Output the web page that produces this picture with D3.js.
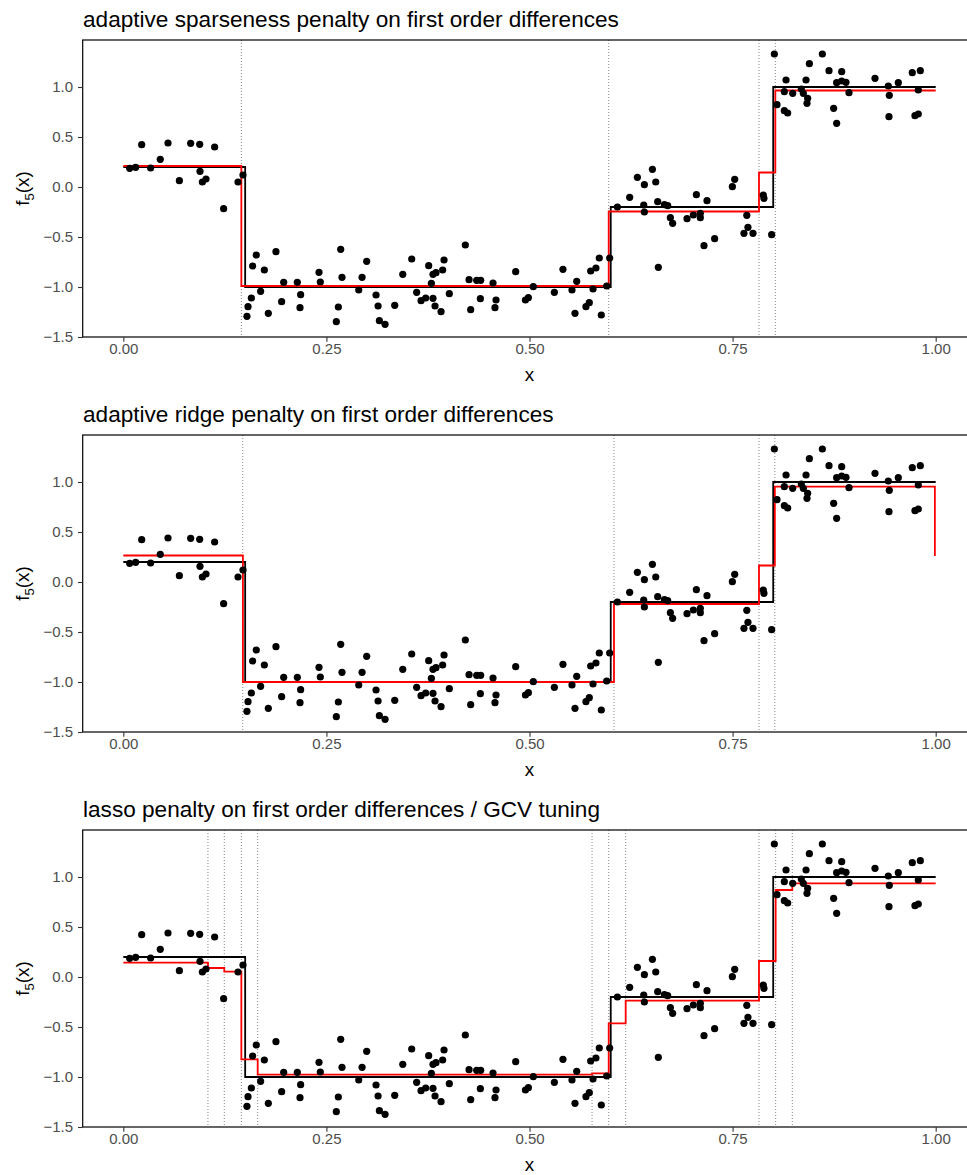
<!DOCTYPE html>
<html>
<head>
<meta charset="utf-8">
<script src="https://cdn.jsdelivr.net/npm/d3@7/dist/d3.min.js"></script>
<style>
    body{ margin:0; background:#fff; }
    svg{ display:block; font-family:"Liberation Sans", Arial, sans-serif; }
    .tick text{ fill:#4d4d4d; }
</style>
</head>
<body>
<script>
// observed data (same in all three panels)
var obsX = [0.0078, 0.0152, 0.0226, 0.0336, 0.0455, 0.055, 0.069, 0.0829, 0.094, 0.0944,
        0.0973, 0.1018, 0.1124, 0.1235, 0.1412, 0.1473, 0.1522, 0.1535, 0.1576, 0.1592,
        0.1637, 0.169, 0.1736, 0.1785, 0.1879, 0.1949, 0.1974, 0.2142, 0.2175, 0.2183,
        0.2409, 0.2425, 0.2622, 0.2647, 0.2676, 0.2692, 0.2898, 0.2939, 0.2996, 0.3111,
        0.3136, 0.3152, 0.3222, 0.3341, 0.344, 0.355, 0.3611, 0.3665, 0.3722, 0.3759,
        0.3792, 0.3812, 0.3812, 0.3837, 0.3849, 0.3911, 0.3931, 0.3948, 0.4013, 0.421,
        0.4256, 0.4276, 0.435, 0.4395, 0.4399, 0.4551, 0.4575, 0.4588, 0.483, 0.495,
        0.4986, 0.5047, 0.5306, 0.5412, 0.5523, 0.556, 0.5581, 0.5695, 0.5736, 0.5753,
        0.5782, 0.5818, 0.5859, 0.5884, 0.595, 0.5987, 0.6082, 0.6233, 0.6328, 0.6406,
        0.6414, 0.6414, 0.6513, 0.6554, 0.6578, 0.6586, 0.6661, 0.6701, 0.6734, 0.6762,
        0.6939, 0.7017, 0.7054, 0.7103, 0.7103, 0.7148, 0.7185, 0.7279, 0.7497, 0.7526,
        0.764, 0.7675, 0.7689, 0.7751, 0.7878, 0.7886, 0.7981, 0.8014, 0.8047, 0.8137,
        0.8137, 0.8158, 0.8178, 0.824, 0.8346, 0.8371, 0.8404, 0.8416, 0.8424, 0.8445,
        0.8605, 0.8687, 0.8744, 0.8781, 0.8781, 0.8843, 0.8843, 0.8896, 0.8933, 0.9253,
        0.9417, 0.9425, 0.9429, 0.954, 0.9712, 0.9745, 0.9786, 0.9786, 0.9811];
var obsY = [0.187, 0.197, 0.423, 0.19, 0.277, 0.44, 0.063, 0.437, 0.427, 0.157,
        0.05, 0.08, 0.40, -0.217, 0.05, 0.12, -1.293, -1.197, -1.11, -0.79,
        -0.68, -1.043, -0.83, -1.263, -0.647, -1.147, -0.953, -0.953, -1.207, -1.077,
        -0.853, -0.95, -1.347, -1.2, -0.623, -0.903, -1.03, -0.903, -0.743, -1.08,
        -1.19, -1.337, -1.373, -1.183, -0.873, -0.72, -1.053, -1.137, -1.11, -0.787,
        -0.963, -0.873, -1.113, -1.19, -0.857, -1.247, -0.83, -0.73, -1.067, -0.58,
        -0.927, -1.227, -0.933, -1.117, -0.933, -0.96, -1.207, -1.13, -0.847, -1.13,
        -1.107, -0.997, -1.053, -0.823, -1.03, -1.263, -0.943, -1.197, -1.157, -0.84,
        -1.02, -0.81, -0.71, -1.28, -0.99, -0.71, -0.2, -0.103, 0.097, -0.18,
        0.023, -0.25, 0.177, 0.05, -0.147, -0.803, -0.177, -0.187, -0.307, -0.363,
        -0.317, -0.28, -0.077, -0.263, -0.307, -0.587, -0.137, -0.517, 0.003, 0.077,
        -0.463, -0.283, -0.403, -0.463, -0.08, -0.113, -0.477, 1.33, 0.823, 0.953,
        0.763, 1.07, 0.74, 0.937, 0.98, 0.937, 1.07, 0.837, 0.887, 1.233,
        1.33, 1.163, 0.787, 0.637, 1.043, 1.153, 1.06, 1.047, 0.943, 1.087,
        1.01, 0.703, 0.917, 1.043, 1.143, 0.713, 0.97, 0.73, 1.163];

// true step function f5
var trueBreaks = [0.15, 0.6, 0.8];
var trueLevels = [0.2, -1.0, -0.2, 1.0];

// fits
var sparseBreaks = [0.1453, 0.5975, 0.7825, 0.8026];
var sparseLevels = [0.21, -0.99, -0.245, 0.145, 0.965];
var sparseKnots = [0.1453, 0.5975, 0.7825, 0.8026];

var ridgeBreaks = [0.1472, 0.604, 0.7825, 0.802, 0.999];
var ridgeLevels = [0.265, -1.0, -0.22, 0.165, 0.953, 0.27];
var ridgeKnots = [0.147, 0.604, 0.7825, 0.802];

var lassoBreaks = [0.1042, 0.1243, 0.1453, 0.1654, 0.577, 0.5975, 0.6184, 0.7825, 0.803, 0.8235];
var lassoLevels = [0.143, 0.09, 0.053, -0.823, -0.977, -0.963, -0.463, -0.237, 0.16, 0.87, 0.937];
var lassoKnots = [0.1042, 0.1243, 0.1453, 0.1654, 0.577, 0.5975, 0.6184, 0.7825, 0.803, 0.8235];

var titles = [
    'adaptive sparseness penalty on first order differences',
    'adaptive ridge penalty on first order differences',
    'lasso penalty on first order differences / GCV tuning'
];
var xTicks = [0, 0.25, 0.5, 0.75, 1];
var yTicks = [-1.5, -1, -0.5, 0, 0.5, 1];

var W = 967, H = 1175,
    left = 82.7, right = 976.3,
    panelH = 297,
    tops = [40, 435, 830];

var svg = d3.select( 'body' ).append( 'svg' )
    .attr( 'width', W )
    .attr( 'height', H );

var points = obsX.map( function( v, i ){ return [v, obsY[i]]; } );

function stepPoints( breaks, levels ){
    var pts = [[0, levels[0]]];
    breaks.forEach( function( b, i ){
        pts.push( [b, levels[i+1]] );
    });
    pts.push( [1, levels[levels.length-1]] );
    return pts;
}

function drawPanel( top, title, breaks, levels, knots ){
    var x = d3.scaleLinear().domain( [-0.05, 1.05] ).range( [left, right] ),
        y = d3.scaleLinear().domain( [-1.5, 1.47] ).range( [panelH, 0] ),
        line = d3.line()
            .x( function( d ){ return x( d[0] ); } )
            .y( function( d ){ return y( d[1] ); } )
            .curve( d3.curveStepAfter ),
        g = svg.append( 'g' ).attr( 'transform', 'translate(0,' + top + ')' );

    g.append( 'text' )
        .attr( 'x', 83 )
        .attr( 'y', -13 )
        .attr( 'font-size', '22.6px' )
        .attr( 'fill', '#000' )
        .text( title );

    g.selectAll( 'line.knot' )
        .data( knots )
        .enter().append( 'line' )
        .attr( 'class', 'knot' )
        .attr( 'x1', function( d ){ return x( d ); } )
        .attr( 'x2', function( d ){ return x( d ); } )
        .attr( 'y1', 0 )
        .attr( 'y2', panelH )
        .attr( 'stroke', '#6a6a6a' )
        .attr( 'stroke-width', 0.8 )
        .attr( 'stroke-dasharray', '1,2' );

    g.append( 'path' )
        .datum( stepPoints( trueBreaks, trueLevels ) )
        .attr( 'd', line )
        .attr( 'fill', 'none' )
        .attr( 'stroke', '#000' )
        .attr( 'stroke-width', 1.8 );

    g.append( 'path' )
        .datum( stepPoints( breaks, levels ) )
        .attr( 'd', line )
        .attr( 'fill', 'none' )
        .attr( 'stroke', '#ff0000' )
        .attr( 'stroke-width', 1.8 );

    g.selectAll( 'circle' )
        .data( points )
        .enter().append( 'circle' )
        .attr( 'cx', function( d ){ return x( d[0] ); } )
        .attr( 'cy', function( d ){ return y( d[1] ); } )
        .attr( 'r', 3.6 )
        .attr( 'fill', '#000' );

    // panel frame
    g.append( 'rect' )
        .attr( 'x', left )
        .attr( 'y', 0 )
        .attr( 'width', right - left )
        .attr( 'height', panelH )
        .attr( 'fill', 'none' )
        .attr( 'stroke', '#000' )
        .attr( 'stroke-width', 1.2 );

    var xa = g.append( 'g' )
        .attr( 'transform', 'translate(0,' + panelH + ')' )
        .call( d3.axisBottom( x ).tickValues( xTicks ).tickFormat( d3.format( '.2f' ) )
            .tickSize( 4.7 ).tickPadding( 2 ) );
    var ya = g.append( 'g' )
        .attr( 'transform', 'translate(' + left + ',0)' )
        .call( d3.axisLeft( y ).tickValues( yTicks ).tickFormat( d3.format( '.1f' ) )
            .tickSize( 4.7 ).tickPadding( 5 ) );

    [xa, ya].forEach( function( a ){
        a.select( '.domain' ).remove();
        a.selectAll( '.tick line' ).attr( 'stroke', '#333' ).attr( 'stroke-width', 1.1 );
        a.selectAll( '.tick text' )
            .attr( 'font-size', '15px' )
            .attr( 'font-family', '"Liberation Sans", Arial, sans-serif' );
    });

    g.append( 'text' )
        .attr( 'x', ( left + right ) / 2 )
        .attr( 'y', panelH + 44 )
        .attr( 'text-anchor', 'middle' )
        .attr( 'font-size', '18.8px' )
        .text( 'x' );

    var yt = g.append( 'text' )
        .attr( 'transform', 'translate(29,' + ( panelH / 2 ) + ') rotate(-90)' )
        .attr( 'text-anchor', 'middle' )
        .attr( 'font-size', '18.8px' );
    yt.append( 'tspan' ).text( 'f' );
    yt.append( 'tspan' ).attr( 'font-size', '13px' ).attr( 'dy', 4.5 ).text( '5' );
    yt.append( 'tspan' ).attr( 'dy', -4.5 ).text( '(x)' );
}

drawPanel( tops[0], titles[0], sparseBreaks, sparseLevels, sparseKnots );
drawPanel( tops[1], titles[1], ridgeBreaks, ridgeLevels, ridgeKnots );
drawPanel( tops[2], titles[2], lassoBreaks, lassoLevels, lassoKnots );
</script>
</body>
</html>
